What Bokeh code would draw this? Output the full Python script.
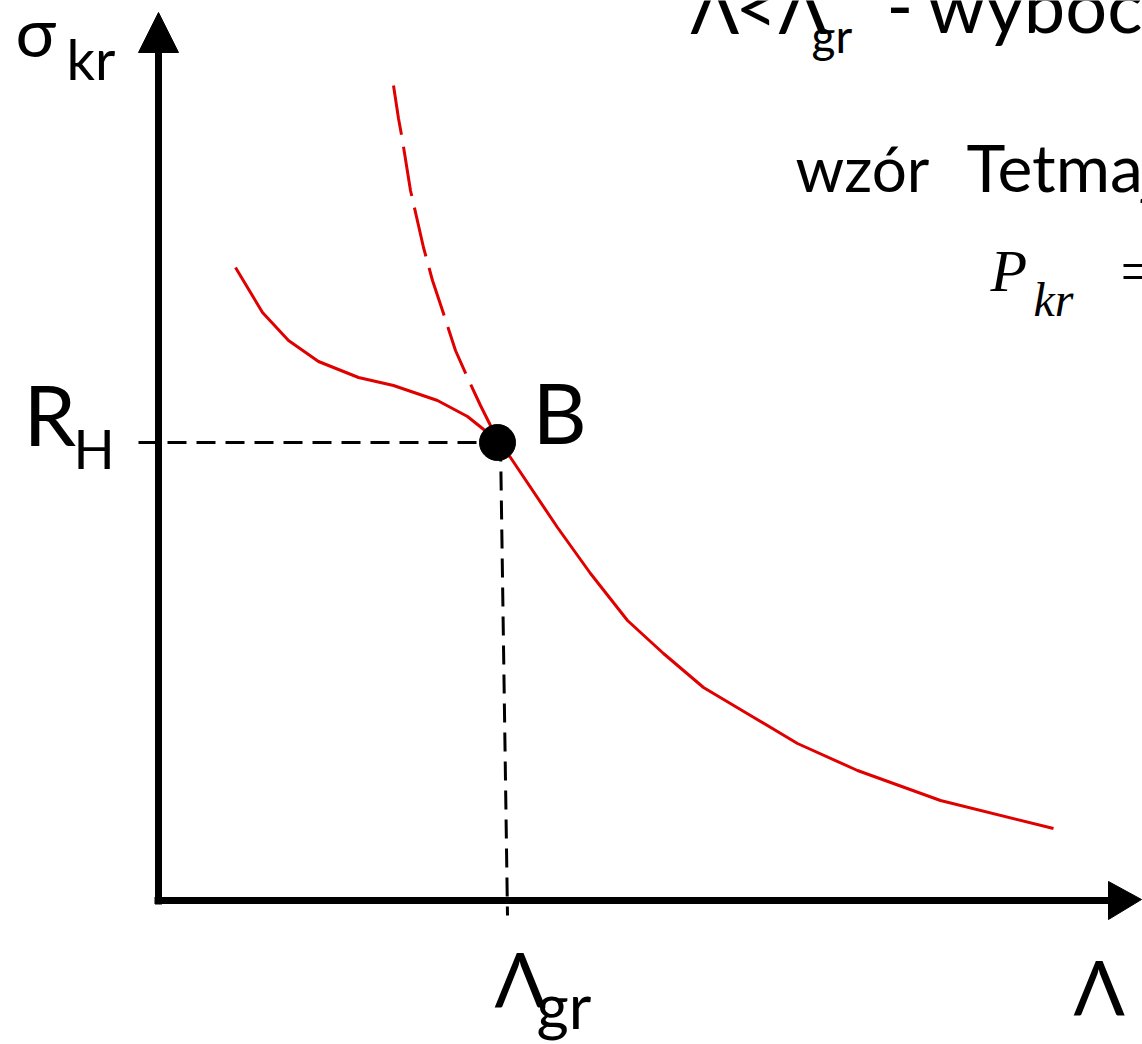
from bokeh.plotting import figure
from bokeh.models import Range1d
from bokeh.core.properties import value
from bokeh.embed import file_html
from bokeh.resources import INLINE

# Slenderness (lambda) and critical stress (sigma_kr) in drawing units,
# origin at the axes' corner.

# Limit point B: lambda_gr and the proportional limit R_H
lam_gr = 339
R_H = 458

# Euler hyperbola, valid range (lambda > lambda_gr)
lam_euler = [339, 352, 399, 432, 469, 505, 545, 592, 639, 699, 782, 895]
sig_euler = [458, 443, 373, 327, 280, 247, 213, 185, 157, 130, 100, 72]

# Euler hyperbola continued into the non-valid range (lambda < lambda_gr)
lam_euler_ext = [235, 240, 244, 252, 265, 274, 284, 297, 309, 322, 332, 339]
sig_euler_ext = [815, 782, 760, 710, 653, 620, 590, 550, 523, 495, 475, 458]

# Tetmajer-Jasinski range (lambda < lambda_gr)
lam_tetm = [77, 104, 130, 160, 200, 235, 279, 309, 329, 339]
sig_tetm = [633, 588, 560, 539, 523, 515, 500, 484, 468, 458]

# Axis extents
x_axis_end = 950
y_axis_end = 848

RED = "#e00000"
FONT = value("Lato")
SERIF = value("Liberation Serif")

p = figure(width=1142, height=1044, output_backend="svg", toolbar_location=None,
           x_range=Range1d(-158, 984), y_range=Range1d(-144, 900),
           x_axis_type=None, y_axis_type=None, min_border=0)
p.grid.visible = False
p.outline_line_color = None
p.background_fill_color = "white"
p.border_fill_color = "white"

# axes with arrow heads
p.line([0, 0], [-4, y_axis_end + 2], line_color="black", line_width=7)
p.patch([-20, 20, 0], [y_axis_end, y_axis_end, y_axis_end + 40], color="black")
p.line([-4, x_axis_end + 2], [0, 0], line_color="black", line_width=7)
p.patch([x_axis_end, x_axis_end, x_axis_end + 33], [19, -19, 1], color="black")

# guide lines to the limit point
p.line([-20, lam_gr], [R_H, R_H], line_color="black", line_width=3, line_dash="19 10")
p.line([lam_gr + 3, lam_gr + 10], [R_H, -15], line_color="black", line_width=3,
       line_dash="19 10")

# curves
p.line(lam_euler_ext, sig_euler_ext, line_color=RED, line_width=3, line_dash="50 12")
p.line(lam_tetm, sig_tetm, line_color=RED, line_width=3)
p.line(lam_euler, sig_euler, line_color=RED, line_width=3)

# limit point
p.scatter([lam_gr], [R_H], size=36, color="black")


def label(x, base, t, size, font=FONT, style="normal"):
    # base is the wanted baseline; the renderer sets glyphs lower by ~0.44 em
    y = base + 0.44 * size
    p.text([x], [y], text=[t], text_font=font, text_font_size=f"{size}px",
           text_font_style=style, text_color="black",
           text_baseline="alphabetic", text_align="left")


label(-143, 840, "σ", 68)
label(-92, 817, "kr", 56)
label(-135, 450, "R", 84)
label(-85, 428, "H", 54)
label(lam_gr + 35, 452, "B", 84)
label(lam_gr - 3, -110, "Λ", 76)
label(lam_gr + 39, -132, "gr", 62)
label(915, -118, "Λ", 76)

label(532, 863, "Λ", 72)
label(577, 863, "<", 72)
label(620, 863, "Λ", 72)
label(653, 845, "gr", 46)
label(728, 863, "-", 72)
label(769, 863, "wyboczenie niesprężyste", 74)
label(637, 705, "wzór", 62)
label(808, 705, "Tetmajera", 66)

label(832, 603, "P", 60, font=SERIF, style="italic")
label(875, 580, "kr", 48, font=SERIF, style="italic")
label(962, 603, "=", 60, font=SERIF)

open("out.html", "w").write(file_html(p, INLINE))
